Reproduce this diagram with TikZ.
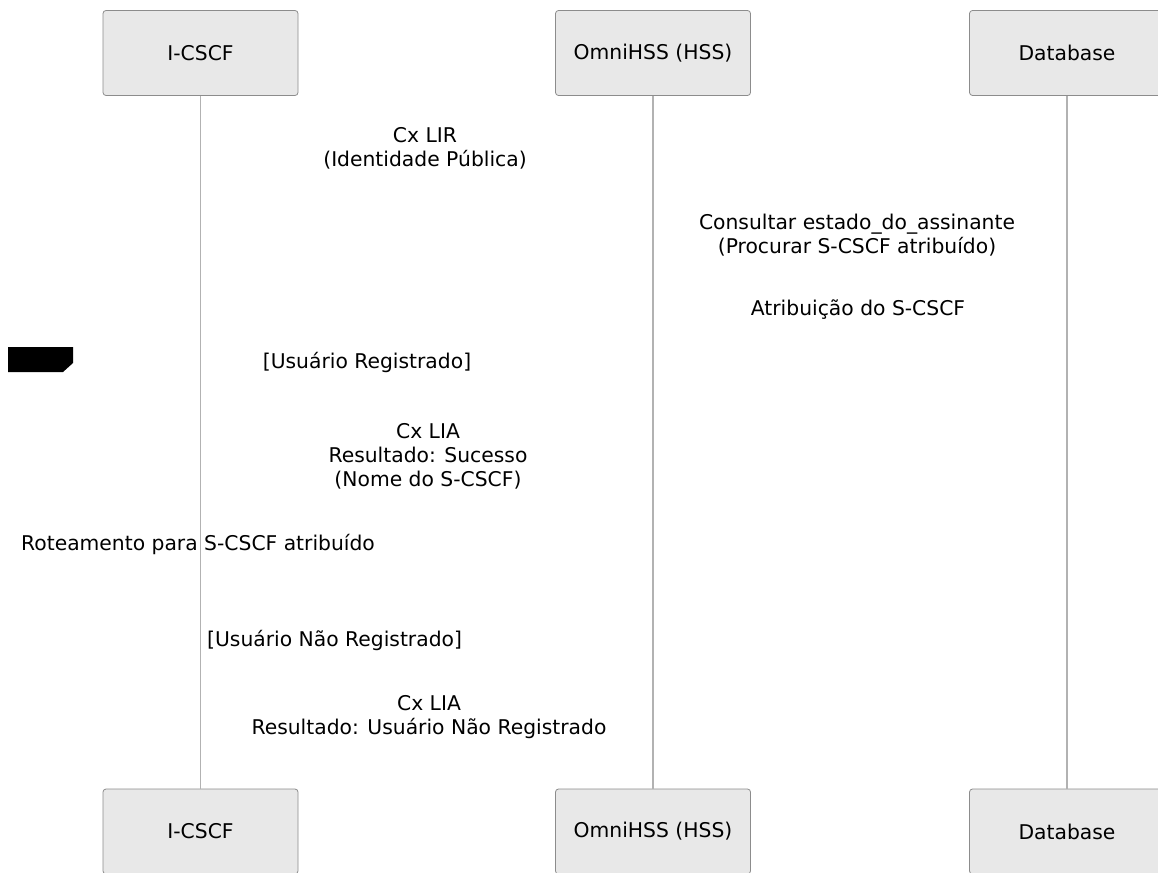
\documentclass[tikz,border=0pt]{standalone}
\usepackage{fontspec}
\setmainfont{DejaVu Sans}
\usetikzlibrary{positioning}

\begin{document}
\begin{tikzpicture}[
  x=1pt, y=-1pt,
  % Participant box, drawn at top and bottom of each lifeline
  actor/.style={
    rectangle, rounded corners=3pt,
    draw=black!45, thick,
    fill=black!9,
    minimum width=195pt, minimum height=85pt,
    font=\fontsize{20.3}{24}\selectfont
  },
  lifeline/.style={black!30, line width=1.3pt},
  msg/.style={inner sep=0pt, align=center, font=\fontsize{20.3}{24}\selectfont},
]
\useasboundingbox (0,0) rectangle (1158,872);

%% ── Participants (top) ──────────────────────────────────────────────────
\node[actor] (icscf) at (200.5,53) {I-CSCF};
\node[actor] (hss)   at (653,53)   {OmniHSS (HSS)};
\node[actor] (db)    at (1067,53)  {Database};

%% ── Participants (bottom) ───────────────────────────────────────────────
\node[actor] (icscfB) at (200.5,831.5) {I-CSCF};
\node[actor] (hssB)   at (653,831.5)   {OmniHSS (HSS)};
\node[actor] (dbB)    at (1067,831.5)  {Database};

%% ── Lifelines ───────────────────────────────────────────────────────────
\draw[lifeline] (icscf) -- (icscfB);
\draw[lifeline] (hss)   -- (hssB);
\draw[lifeline] (db)    -- (dbB);

%% ── Messages ────────────────────────────────────────────────────────────
\node[msg] (lir)    at (425,148) {Cx LIR\\(Identidade Pública)};
\node[msg] (query)  at (857,235) {Consultar estado\_do\_assinante\\(Procurar S-CSCF atribuído)};
\node[msg] (assign) at (858,310) {Atribuição do S-CSCF};

%% ── Alt fragment: registered user ───────────────────────────────────────
\fill (8,347) -- (73,347) -- (73,363) -- (63,372) -- (8,372) -- cycle;
\node[msg] (regd)  at (367,362) {[Usuário Registrado]};
\node[msg] (lia1)  at (428,456) {Cx LIA\\Resultado: Sucesso\\(Nome do S-CSCF)};
\node[msg, anchor=west] (route) at (21,544) {Roteamento para S-CSCF atribuído};

%% ── Alt fragment: unregistered user ─────────────────────────────────────
\node[msg, anchor=west] (notregd) at (207,640) {[Usuário Não Registrado]};
\node[msg] (lia2) at (429,717) {Cx LIA\\Resultado: Usuário Não Registrado};

\end{tikzpicture}
\end{document}
